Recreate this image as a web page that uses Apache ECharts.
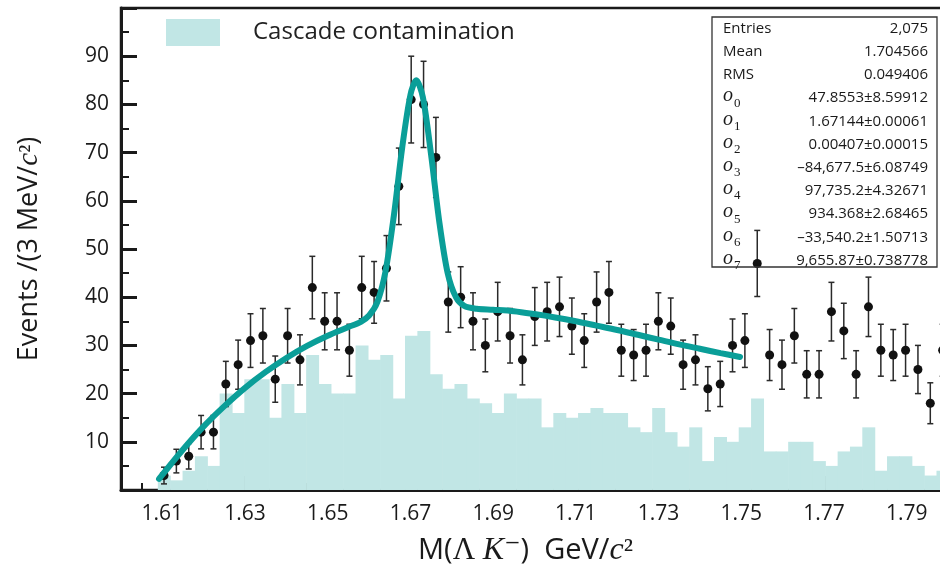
<!DOCTYPE html>
<html><head><meta charset="utf-8">
<script src="https://cdn.jsdelivr.net/npm/echarts@6/dist/echarts.min.js"></script>
<style>html,body{margin:0;padding:0;background:#fff}#c{width:940px;height:571px}</style>
</head><body><div id="c"></div>
<script>
// ---- data ----
const binCenters = [1.61040,1.61339,1.61638,1.61937,1.62236,1.62535,1.62833,1.63132,1.63431,1.63730,
  1.64029,1.64328,1.64627,1.64926,1.65225,1.65524,1.65822,1.66121,1.66420,1.66719,
  1.67018,1.67317,1.67616,1.67915,1.68214,1.68513,1.68811,1.69110,1.69409,1.69708,
  1.70007,1.70306,1.70605,1.70904,1.71203,1.71502,1.71800,1.72099,1.72398,1.72697,
  1.72996,1.73295,1.73594,1.73893,1.74192,1.74491,1.74789,1.75088,1.75387,1.75686,
  1.75985,1.76284,1.76583,1.76882,1.77181,1.77480,1.77778,1.78077,1.78376,1.78675,
  1.78974,1.79273,1.79572,1.79871];
const dataCounts = [3,6,7,12,12,22,26,31,32,23, 32,27,42,35,35,29,42,41,46,63,
  81,80,69,39,40,35,30,37,32,27, 36,37,38,34,31,39,41,29,28,29,
  35,34,26,27,21,22,30,31,47,28, 26,32,24,24,37,33,24,38,29,28, 29,25,18,29];
const cascadeCounts = [3,2,4,7,5,20,16,23,23,15, 22,16,28,22,20,20,30,27,28,19,
  32,33,24,21,22,19,18,16,20,19, 19,13,16,15,16,17,16,16,13,12,
  17,12,9,13,6,11,10,13,19,8, 8,10,10,6,5,8,9,13,4,7, 7,5,3,4];
const fitX = [1.6092,1.615,1.62,1.625,1.63,1.635,1.64,1.645,1.65,1.655,
  1.658,1.66,1.662,1.664,1.666,1.668,1.67,1.6714,1.673,1.675,
  1.677,1.679,1.681,1.683,1.686,1.69,1.695,1.70,1.705,1.71,
  1.715,1.72,1.725,1.73,1.735,1.74,1.745,1.7497];
const fitY = [2.3,8.4,13.2,17.4,21.2,24.5,27.4,29.9,32.0,33.8,
  34.9,36.2,39.0,45.5,57.0,71.0,82.0,85.0,81.5,69.5,
  55.5,45.0,40.0,38.2,37.6,37.4,37.1,36.5,35.8,35.0,
  34.1,33.2,32.2,31.2,30.2,29.3,28.4,27.6];
const xTickLabels = [1.61,1.63,1.65,1.67,1.69,1.71,1.73,1.75,1.77,1.79];
const yTickLabels = [10,20,30,40,50,60,70,80,90];
const statsLabels = ['Entries','Mean','RMS','{i|o}{s|0}','{i|o}{s|1}','{i|o}{s|2}','{i|o}{s|3}',
  '{i|o}{s|4}','{i|o}{s|5}','{i|o}{s|6}','{i|o}{s|7}'];
const statsValues = ['2,075','1.704566','0.049406','47.8553\u00b18.59912','1.67144\u00b10.00061',
  '0.00407\u00b10.00015','\u201384,677.5\u00b16.08749','97,735.2\u00b14.32671','934.368\u00b12.68465',
  '\u201333,540.2\u00b11.50713','9,655.87\u00b10.738778'];
const legendName = 'Cascade contamination';

// ---- chart ----
const FONT = 'Open Sans';
const MATH = '"Liberation Serif", "DejaVu Serif", serif';
const AX = '#1a1a1a';
const HIST = '#c1e6e5';
const FIT = '#0a9e98';
const halfBin = (binCenters[1] - binCenters[0]) / 2;

const chart = echarts.init(document.getElementById('c'));

const graphics = [{
  type: 'rect', z: 50,
  shape: {x: 712, y: 17, width: 225, height: 250},
  style: {fill: 'none', stroke: '#333', lineWidth: 1.3}
}];
statsLabels.forEach((lab, i) => {
  const y = 28.5 + i * 23.2;
  graphics.push({
    type: 'text', z: 51, x: 723, y: y,
    style: {text: lab, fontFamily: FONT, fontSize: 15, fill: '#1a1a1a', align: 'left', verticalAlign: 'middle',
      rich: {
        i: {fontFamily: MATH, fontStyle: 'italic', fontSize: 20, fill: '#1a1a1a', lineHeight: 20, padding: [0, 0, 4, 0]},
        s: {fontFamily: MATH, fontSize: 13, fill: '#1a1a1a', lineHeight: 14, padding: [10, 0, 0, 1]}
      }}
  });
  graphics.push({
    type: 'text', z: 51, x: 928, y: y,
    style: {text: statsValues[i], fontFamily: FONT, fontSize: 15, fill: '#1a1a1a',
      align: 'right', verticalAlign: 'middle'}
  });
});

const option = {
  animation: false,
  backgroundColor: '#fff',
  textStyle: {fontFamily: FONT},
  grid: {left: 121, right: -8, top: 8, bottom: 81, show: true, borderColor: AX, borderWidth: 2.5,
    backgroundColor: 'transparent', outerBoundsMode: 'none', containLabel: false},
  legend: {
    data: [legendName], left: 166, top: 19, padding: 0, itemWidth: 54, itemHeight: 27,
    icon: 'rect', selectedMode: false,
    textStyle: {fontSize: 24, color: '#222', fontFamily: FONT, padding: [0, 0, 0, 28]}
  },
  xAxis: [{
    type: 'value', min: 1.60, max: 1.80, interval: 0.005,
    axisLine: {show: true, onZero: false, lineStyle: {color: AX, width: 3}},
    axisTick: {show: true, inside: true, length: 7, lineStyle: {color: AX, width: 2}},
    axisLabel: {show: true, customValues: xTickLabels, formatter: v => v.toFixed(2),
      fontSize: 21, color: '#1a1a1a', margin: 14, fontFamily: FONT},
    splitLine: {show: false},
    name: '{a|M(}{m|\u039b }{k|K}{m|\u207b}{a|)  GeV/}{k|c}{m|\u00b2}',
    nameLocation: 'middle', nameGap: 45,
    nameTextStyle: {padding: [0, 18, 0, 0], rich: {
      a: {fontFamily: FONT, fontSize: 29, color: '#1a1a1a'},
      m: {fontFamily: MATH, fontSize: 31, color: '#1a1a1a'},
      k: {fontFamily: MATH, fontStyle: 'italic', fontSize: 32, color: '#1a1a1a'}
    }}
  }, {
    type: 'value', min: 1.60, max: 1.80, interval: 0.005, position: 'bottom', gridIndex: 0,
    axisLine: {show: false},
    axisTick: {show: true, inside: true, length: 14, customValues: xTickLabels,
      lineStyle: {color: AX, width: 3.5}},
    axisLabel: {show: false}, splitLine: {show: false}
  }],
  yAxis: {
    type: 'value', min: 0, max: 100, interval: 10,
    axisLine: {show: true, onZero: false, lineStyle: {color: AX, width: 3}},
    axisTick: {show: true, inside: true, length: 16, lineStyle: {color: AX, width: 3}},
    minorTick: {show: true, splitNumber: 2, length: 8, lineStyle: {color: AX, width: 2}},
    axisLabel: {customValues: yTickLabels, fontSize: 21, color: '#1a1a1a', margin: 12, fontFamily: FONT},
    splitLine: {show: false}, minorSplitLine: {show: false},
    name: '{a|Events /(3 MeV/}{k|c}{m|\u00b2}{a|)}',
    nameLocation: 'middle', nameGap: 77, nameRotate: 90,
    nameTextStyle: {rich: {
      a: {fontFamily: FONT, fontSize: 27, color: '#1a1a1a'},
      m: {fontFamily: MATH, fontSize: 27, color: '#1a1a1a'},
      k: {fontFamily: MATH, fontStyle: 'italic', fontSize: 29, color: '#1a1a1a'}
    }}
  },
  graphic: graphics,
  series: [{
    name: legendName, type: 'custom', xAxisIndex: 0, yAxisIndex: 0, z: 1, clip: true,
    itemStyle: {color: HIST},
    encode: {x: 0, y: 1},
    data: binCenters.map((x, i) => [x, cascadeCounts[i]]),
    renderItem: (params, api) => {
      const x = api.value(0), v = api.value(1);
      const p0 = api.coord([x - halfBin, v]);
      const p1 = api.coord([x + halfBin, 0]);
      return {type: 'rect', shape: {x: p0[0], y: p0[1], width: p1[0] - p0[0] + 0.6, height: p1[1] - p0[1]},
        style: {fill: HIST}};
    }
  }, {
    name: 'errors', type: 'custom', xAxisIndex: 0, yAxisIndex: 0, z: 2, clip: true,
    encode: {x: 0, y: 1},
    data: binCenters.map((x, i) => [x, dataCounts[i], Math.sqrt(dataCounts[i])]),
    renderItem: (params, api) => {
      const x = api.value(0), v = api.value(1), e = api.value(2);
      const t = api.coord([x, v + e]), b = api.coord([x, v - e]);
      const cw = 3;
      const st = {stroke: '#2a2a2a', lineWidth: 1.5};
      return {type: 'group', children: [
        {type: 'line', shape: {x1: t[0], y1: t[1], x2: b[0], y2: b[1]}, style: st},
        {type: 'line', shape: {x1: t[0] - cw, y1: t[1], x2: t[0] + cw, y2: t[1]}, style: st},
        {type: 'line', shape: {x1: b[0] - cw, y1: b[1], x2: b[0] + cw, y2: b[1]}, style: st}
      ]};
    }
  }, {
    name: 'data', type: 'scatter', xAxisIndex: 0, yAxisIndex: 0, z: 3,
    symbol: 'circle', symbolSize: 9, itemStyle: {color: '#111', opacity: 1},
    data: binCenters.map((x, i) => [x, dataCounts[i]])
  }, {
    name: 'fit', type: 'line', xAxisIndex: 0, yAxisIndex: 0, z: 4,
    showSymbol: false, smooth: 0.3,
    lineStyle: {color: FIT, width: 6, cap: 'round'},
    data: fitX.map((x, i) => [x, fitY[i]])
  }]
};
chart.setOption(option);
</script>
</body></html>
